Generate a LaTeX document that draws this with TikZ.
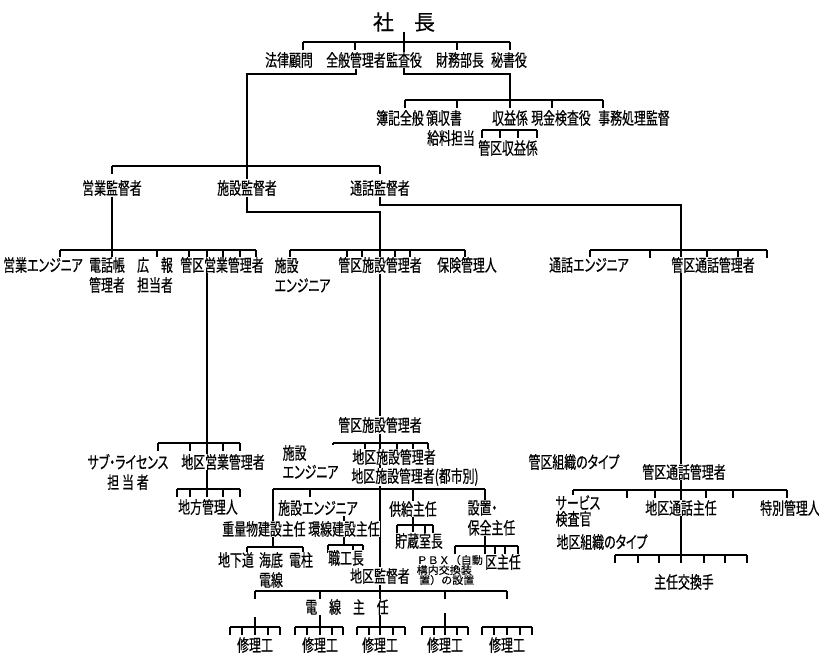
\documentclass[tikz,border=0pt]{standalone}
\usepackage{fontspec}
\usetikzlibrary{positioning,backgrounds}
\newfontfamily\jpfont{Noto Sans CJK JP}[FakeStretch=0.7,FakeBold=0.5,RawFeature={+palt}]
\newfontfamily\jpwide{Noto Sans CJK JP}[FakeBold=0.5]
\newfontfamily\jpflat{Noto Sans CJK JP}[FakeStretch=1.05,FakeBold=0.4]
\tikzset{
  jobbox/.style ={font=\jpfont\fontsize{17bp}{20bp}\selectfont,inner sep=0.5bp,
                  fill=white,align=center},
  topbox/.style ={jobbox,font=\jpwide\fontsize{21bp}{24bp}\selectfont},
  tightbox/.style={jobbox,font=\jpfont\fontsize{17bp}{16bp}\selectfont},
  tinybox/.style={jobbox,font=\jpflat\fontsize{10.5bp}{10bp}\selectfont,align=left},
  orgline/.style={line width=1.5bp,draw=black}
}
% horizontal bar with short ticks hanging down
\newcommand\tickbar[4]{%
  \draw[orgline] (#2,#1) -- (#3,#1);
  \foreach \tx in {#4} \draw[orgline] (\tx,#1) -- ++(0,8);}

\begin{document}
\begin{tikzpicture}[x=1bp,y=-1bp]
  \useasboundingbox (0,0) rectangle (819,655);
  % top management
  \node[topbox] (pres) at (404,22) {社\hspace{20bp}長};
  \node[jobbox] (legal) at (289,60) {法律顧問};
  \node[jobbox] (genmgr) at (356,60) {全般管理者};
  \node[jobbox] (audit) at (404,60) {監査役};
  \node[jobbox] (fin) at (460,60) {財務部長};
  \node[jobbox] (sec) at (509,60) {秘書役};
  % finance staff
  \node[jobbox] (books) at (400,118) {簿記全般};
  \node[jobbox] (rcpt) at (444,118) {領収書};
  \node[jobbox] (pay) at (451,138) {給料担当};
  \node[jobbox] (rev) at (510,118) {収益係};
  \node[jobbox] (cash) at (561,118) {現金検査役};
  \node[jobbox] (office) at (634,118) {事務処理監督};
  \node[jobbox] (krev) at (508,148) {管区収益係};
  % supervisors
  \node[jobbox] (salesup) at (112,188) {営業監督者};
  \node[jobbox] (facsup) at (247,188) {施設監督者};
  \node[jobbox] (callsup) at (380,188) {通話監督者};
  % second row
  \node[jobbox] (saleseng) at (43,265) {営業エンジニア};
  \node[jobbox] (dirmgr) at (107,275) {電話帳\\管理者};
  \node[jobbox] (pr) at (155,275) {広　報\\担当者};
  \node[jobbox] (ksales) at (222,265) {管区営業管理者};
  \node[jobbox,anchor=west,align=left] (faceng) at (274,275) {施設\\エンジニア};
  \node[jobbox] (kfac) at (380,265) {管区施設管理者};
  \node[jobbox] (insur) at (467,265) {保険管理人};
  \node[jobbox] (calleng) at (589,265) {通話エンジニア};
  \node[jobbox] (kcall) at (713,265) {管区通話管理者};
  % sales district
  \node[jobbox] (sublic) at (128,472) {サブ・ライセンス\\担\,当\,者};
  \node[jobbox] (dsales) at (223,462) {地区営業管理者};
  \node[jobbox] (local) at (208,507) {地方管理人};
  % facilities district
  \node[jobbox] (kfac2) at (380,425) {管区施設管理者};
  \node[jobbox,anchor=west,align=left,font=\jpfont\fontsize{17bp}{19bp}\selectfont]
       (faceng2) at (282,462) {施設\\エンジニア};
  \node[jobbox] (dfac) at (394,457) {地区施設管理者};
  \node[jobbox] (dfaccity) at (415,477) {地区施設管理者(都市別)};
  \node[jobbox] (faceng3) at (318,508) {施設エンジニア};
  \node[jobbox] (supply) at (413,509) {供給主任};
  \node[jobbox,anchor=west,align=left] (instal) at (467,518) {設置・\\保全主任};
  \node[jobbox] (heavy) at (264,529) {重量物建設主任};
  \node[jobbox] (ring) at (344,529) {環線建設主任};
  \node[jobbox] (store) at (419,541) {貯蔵室長};
  \node[jobbox] (subway) at (236,560) {地下道};
  \node[jobbox] (cable) at (271,570) {海底\\電線};
  \node[jobbox] (pole) at (301,560) {電柱};
  \node[jobbox] (foreman) at (346,558) {職工長};
  \node[jobbox] (dsup) at (380,576) {地区監督者};
  \node[tinybox,anchor=west] (pbx) at (416,570) {ＰＢＸ（自動\\構内交換装\\\ 置）の設置};
  \node[jobbox] (sect) at (503,562) {区主任};
  \node[jobbox] (wire) at (347,607) {電　線　主　任};
  \foreach \i/\x in {1/255,2/320,3/380,4/445,5/507}
    \node[jobbox] (rep\i) at (\x,645) {修理工};
  % traffic district
  \node[jobbox] (kcall2) at (684,472) {管区通話管理者};
  \node[jobbox] (ktype) at (574,462) {管区組織のタイプ};
  \node[tightbox,anchor=west,align=left] (svc) at (555,511) {サービス\\検査官};
  \node[jobbox] (dcall) at (681,508) {地区通話主任};
  \node[jobbox] (special) at (790,508) {特別管理人};
  \node[jobbox] (dtype) at (602,542) {地区組織のタイプ};
  \node[jobbox] (opchief) at (684,582) {主任交換手};

  \coordinate (gmturn) at (247,74);
  \coordinate (finjoint) at (510,100);
  \begin{scope}[on background layer]
    \tickbar{42}{303}{510}{303,355,457,510}
    \draw[orgline] (pres) -- (404,74) -| (finjoint);
    \tickbar{100}{405}{603}{405,457,510,552,603}
    \tickbar{130}{482}{537}{482,500,518,537}
    \draw[orgline] (genmgr.south) |- (gmturn) -- (facsup) -- (247,212) -| (kfac)
                   -- (kfac2) -- (dsup) -- (380,627);
    \tickbar{166}{112}{380}{112,247,380}
    \draw[orgline] (salesup) -- (112,250);
    \draw[orgline] (callsup.south) |- (681,205) -- (681,555);
    \tickbar{250}{60}{256}{60,112,157,189,207,223,240,256}
    \tickbar{250}{290}{465}{290,347,362,380,395,410,465}
    \tickbar{250}{590}{767}{590,650,681,707,738,767}
    \draw[orgline] (207,250) -- (207,489);
    \tickbar{443}{158}{240}{158,190,207,223,240}
    \tickbar{489}{177}{240}{177,190,207,223,240}
    \tickbar{443}{333}{428}{333,365,380,397,413,428}
    \draw[orgline] (273,489) -- (485,489);
    \draw[orgline] (273,489) -- (273,547);
    \draw[orgline] (310,489) -- (310,497);
    \draw[orgline] (413,489) -- (413,532);
    \draw[orgline] (485,489) -- (485,546);
    \tickbar{547}{247}{303}{247,303}
    \draw[orgline] (344,514) -- (344,545);
    \tickbar{545}{328}{363}{328,353,363}
    \tickbar{525}{397}{433}{397,425,433}
    \tickbar{546}{455}{518}{455,485,495,505,518}
    \tickbar{591}{255}{507}{255,320,445,507}
    \draw[orgline] (320,591) -- (320,627);
    \draw[orgline] (445,613) -- (445,627);
    \draw[orgline] (255,617) -- (255,627);
    \tickbar{627}{230}{280}{230,242,255,268,280}
    \tickbar{627}{295}{343}{295,307,320,332,343}
    \tickbar{627}{357}{405}{357,369,380,393,405}
    \tickbar{627}{422}{468}{422,434,445,457,468}
    \tickbar{627}{482}{532}{482,494,507,520,532}
    \tickbar{490}{573}{787}{573,627,655,681,706,733,787}
    \tickbar{555}{615}{747}{615,638,659,681,704,725,747}
  \end{scope}
\end{tikzpicture}
\end{document}
